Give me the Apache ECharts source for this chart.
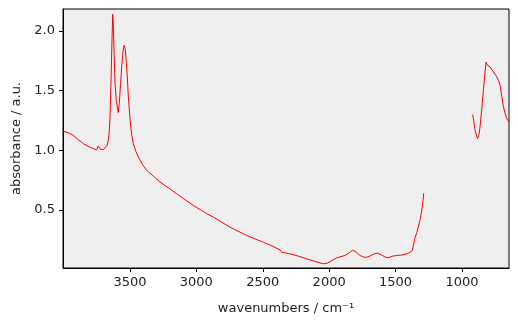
<!DOCTYPE html>
<html>
<head>
<meta charset="utf-8">
<script src="https://cdn.jsdelivr.net/npm/echarts@6/dist/echarts.min.js"></script>
<style>
  html, body { margin: 0; padding: 0; background: #fff; }
  #chart { width: 518px; height: 326px; }
</style>
</head>
<body>
<div id="chart"></div>
<script>
// spectrum: [wavenumber, absorbance]
const segHigh = [
  [4002, 1.16], [3960, 1.145], [3926, 1.126], [3890, 1.09], [3851, 1.056],
  [3800, 1.025], [3750, 1.003], [3738, 1.036], [3720, 1.008], [3700, 1.006],
  [3688, 1.017], [3672, 1.04], [3663, 1.084], [3656, 1.15], [3650, 1.28],
  [3643, 1.55], [3637, 1.84], [3630, 2.14], [3625, 2.05], [3620, 1.84],
  [3612, 1.56], [3603, 1.42], [3595, 1.36], [3588, 1.317], [3580, 1.40],
  [3571, 1.55], [3562, 1.70], [3553, 1.82], [3545, 1.88], [3537, 1.86],
  [3530, 1.78], [3520, 1.62], [3512, 1.45], [3502, 1.30], [3494, 1.196],
  [3485, 1.12], [3475, 1.056], [3455, 0.99], [3437, 0.944], [3405, 0.88],
  [3374, 0.832], [3320, 0.78], [3274, 0.734], [3210, 0.685], [3148, 0.636],
  [3085, 0.586], [3023, 0.538], [2960, 0.495], [2897, 0.454], [2872, 0.44],
  [2810, 0.398], [2747, 0.356], [2680, 0.318], [2621, 0.286], [2560, 0.258],
  [2496, 0.229], [2430, 0.198], [2370, 0.165], [2357, 0.145], [2295, 0.132],
  [2230, 0.112], [2169, 0.09], [2100, 0.066], [2044, 0.048], [2010, 0.055],
  [1980, 0.075], [1943, 0.098], [1881, 0.118], [1850, 0.14], [1823, 0.162],
  [1795, 0.145], [1768, 0.118], [1740, 0.104], [1718, 0.103], [1690, 0.115],
  [1660, 0.132], [1637, 0.137], [1610, 0.125], [1580, 0.105], [1555, 0.098],
  [1525, 0.112], [1491, 0.118], [1450, 0.122], [1416, 0.132], [1390, 0.145],
  [1374, 0.16], [1363, 0.22], [1353, 0.27], [1340, 0.31], [1329, 0.356],
  [1315, 0.42], [1303, 0.496], [1295, 0.56], [1288, 0.64]
];
const segLow = [
  [919, 1.30], [900, 1.16], [884, 1.098], [872, 1.13], [864, 1.196],
  [850, 1.36], [839, 1.50], [828, 1.64], [819, 1.74], [809, 1.714],
  [789, 1.70], [764, 1.658], [738, 1.616], [725, 1.585], [713, 1.546],
  [700, 1.45], [688, 1.364], [675, 1.31], [663, 1.266], [646, 1.238]
];
const xTicks = [1000, 1500, 2000, 2500, 3000, 3500];
const yTicks = [0.5, 1.0, 1.5, 2.0];

const chart = echarts.init(document.getElementById('chart'), null, { renderer: 'canvas' });
const font = 'DejaVu Sans';
chart.setOption({
  animation: false,
  grid: {
    left: 63, right: 9, top: 9, bottom: 58,
    show: true,
    backgroundColor: '#efefef',
    borderColor: '#000',
    borderWidth: 1
  },
  xAxis: {
    type: 'value',
    inverse: true,
    min: 646,
    max: 4004,
    name: 'wavenumbers / cm\u207B\u00B9',
    nameLocation: 'middle',
    nameGap: 34,
    nameTextStyle: { fontFamily: font, fontSize: 13, color: '#222' },
    axisLine: { show: true, lineStyle: { color: '#000', width: 1 } },
    axisTick: { show: true, length: 4, lineStyle: { color: '#000' }, customValues: xTicks },
    axisLabel: {
      fontFamily: font, fontSize: 13, color: '#222', margin: 8,
      customValues: xTicks,
      formatter: v => String(v)
    },
    splitLine: { show: false }
  },
  yAxis: {
    type: 'value',
    min: 0.013,
    max: 2.185,
    name: 'absorbance / a.u.',
    nameLocation: 'middle',
    nameGap: 38,
    nameTextStyle: { fontFamily: font, fontSize: 13, color: '#222' },
    axisLine: { show: true, lineStyle: { color: '#000', width: 1 } },
    axisTick: { show: true, length: 4, lineStyle: { color: '#000' }, customValues: yTicks },
    axisLabel: {
      fontFamily: font, fontSize: 13, color: '#222', margin: 8,
      customValues: yTicks,
      formatter: v => v.toFixed(1)
    },
    splitLine: { show: false }
  },
  series: [
    {
      type: 'line', data: segHigh, showSymbol: false, symbol: 'none',
      lineStyle: { color: '#ff0000', width: 1 }, z: 3
    },
    {
      type: 'line', data: segLow, showSymbol: false, symbol: 'none',
      lineStyle: { color: '#ff0000', width: 1 }, z: 3
    }
  ]
});
</script>
</body>
</html>
